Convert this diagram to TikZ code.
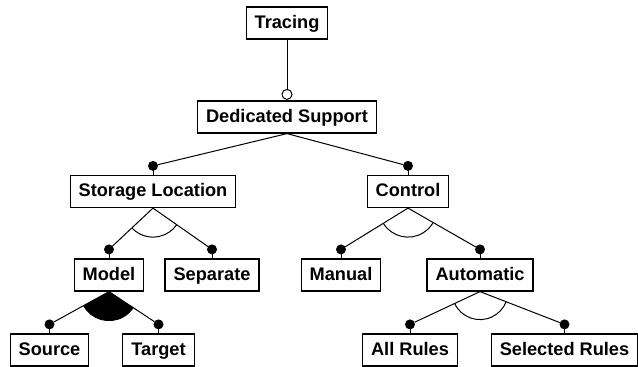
\documentclass[tikz,border=0pt]{standalone}
\usepackage{fontspec}
\setmainfont{Liberation Sans}
\usetikzlibrary{positioning,angles}

\begin{document}
\begin{tikzpicture}[x=1pt, y=-1pt,
    feature/.style={draw, line width=1.2pt, inner xsep=8.5pt, inner ysep=0pt,
        minimum height=32pt, text height=13.5pt, text depth=3.5pt,
        font=\bfseries\fontsize{18.2}{20}\selectfont},
    edge/.style={line width=1pt}]
    \useasboundingbox (0,0) rectangle (638,367);

    \node[feature] (tracing) at (287,23) {Tracing};
    \node[feature] (support) at (287,117) {Dedicated Support};
    \node[feature] (storage) at (153,191.5) {Storage Location};
    \node[feature] (control) at (408,191.5) {Control};
    \node[feature] (model) at (109,275) {Model};
    \node[feature] (separate) at (212,275) {Separate};
    \node[feature] (manual) at (341,275) {Manual};
    \node[feature] (automatic) at (480,275) {Automatic};
    \node[feature] (source) at (49.5,350) {Source};
    \node[feature] (target) at (158.5,350) {Target};
    \node[feature] (allrules) at (410,350) {All Rules};
    \node[feature] (selrules) at (564.5,350) {Selected Rules};

    % bottom anchors of the parents
    \foreach \n in {tracing,support,storage,control,model,automatic}
        \coordinate (\n-b) at (\n.south);

    % mandatory features: filled dot above the box
    \foreach \n in {storage,control,model,separate,manual,automatic,source,target,allrules,selrules} {
        \coordinate[above=9pt of \n.north] (\n-dot);
        \draw[edge] (\n.north) -- (\n-dot);
        \fill (\n-dot) circle (5pt);
    }
    % optional feature: open circle
    \coordinate[above=6pt of support.north] (support-dot);
    \draw[edge, fill=white] (support-dot) circle (5pt);

    \foreach \p/\c in {tracing/support, support/storage, support/control,
        storage/model, storage/separate, control/manual, control/automatic,
        model/source, model/target, automatic/allrules, automatic/selrules}
        \draw[edge, shorten >=5pt] (\p-b) -- (\c-dot);

    % group arcs
    \pic[draw, edge, angle radius=29pt] {angle = model-dot--storage-b--separate-dot};
    \pic[draw, edge, angle radius=29pt] {angle = manual-dot--control-b--automatic-dot};
    \pic[draw, edge, angle radius=28pt] {angle = allrules-dot--automatic-b--selrules-dot};
    \pic[draw, fill=black, edge, angle radius=29pt] {angle = source-dot--model-b--target-dot};
\end{tikzpicture}
\end{document}
